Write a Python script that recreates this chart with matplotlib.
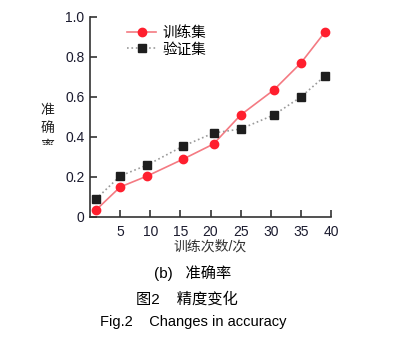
import matplotlib.pyplot as plt
import numpy as np
from matplotlib.patches import Rectangle

plt.rcParams['font.family'] = ['Liberation Sans', 'Noto Sans CJK SC', 'DejaVu Sans']

# data
epochs_train = [1, 5, 9.5, 15.5, 20.5, 25, 30.5, 35, 39]
acc_train = [0.035, 0.15, 0.205, 0.29, 0.365, 0.51, 0.635, 0.77, 0.925]
epochs_val = [1, 5, 9.5, 15.5, 20.5, 25, 30.5, 35, 39]
acc_val = [0.09, 0.205, 0.26, 0.355, 0.42, 0.44, 0.51, 0.60, 0.705]
xticks = [5, 10, 15, 20, 25, 30, 35, 40]
yticks = [0, 0.2, 0.4, 0.6, 0.8, 1.0]
ytick_labels = ['0', '0.2', '0.4', '0.6', '0.8', '1.0']
ylabel_chars = ['准', '确', '率']

fig = plt.figure(figsize=(3.98, 3.39), dpi=100)
ax = fig.add_axes([90/398, 1-217/339, 241/398, 200/339])

ax.plot(epochs_train, acc_train, color='#f47a82', lw=1.2, marker='o', ms=6,
        mfc='#ff1f2e', mec='#ff1f2e', label='训练集')
ax.plot(epochs_val, acc_val, color='#9a9a9a', lw=1.2, ls=':', marker='s', ms=6,
        mfc='#1e1e1e', mec='#1e1e1e', label='验证集')

ax.set_xlim(0, 40)
ax.set_ylim(0, 1.0)
ax.set_xticks(xticks)
ax.set_yticks(yticks)
ax.set_yticklabels(ytick_labels)
for s in ['top', 'right']:
    ax.spines[s].set_visible(False)
for s in ['left', 'bottom']:
    ax.spines[s].set_color('#333333')
    ax.spines[s].set_linewidth(1.2)
ax.tick_params(direction='in', length=5, width=1.2, color='#333333',
               labelsize=10, labelcolor='#1a1a2e', pad=4)
ax.tick_params(axis='x', pad=6)
ax.set_xlabel('训练次数/次', fontsize=10, color='#333333', labelpad=0)

leg = ax.legend(loc='upper left', bbox_to_anchor=(0.1, 1.02), frameon=False,
                fontsize=10.5, handlelength=2.0, handletextpad=0.4, labelspacing=0.15)

# y label written vertically, last char cut off as in the source
for i, ch in enumerate(ylabel_chars):
    fig.text(47/398, 1-(110 + 18*i)/339, ch, fontsize=10, ha='center', va='center',
             color='#222222', zorder=3)
fig.add_artist(Rectangle((36/398, 1-160/339), 24/398, 15/339,
                         transform=fig.transFigure, fc='white', ec='none', zorder=5))

fig.text(193/398, 1-273/339, '(b)   准确率', fontsize=11, ha='center', va='center')
fig.text(187/398, 1-299/339, '图2    精度变化', fontsize=11, ha='center', va='center')
fig.text(193/398, 1-322/339, 'Fig.2    Changes in accuracy', fontsize=10.5, ha='center', va='center')

fig.savefig('out.png', dpi=100)
